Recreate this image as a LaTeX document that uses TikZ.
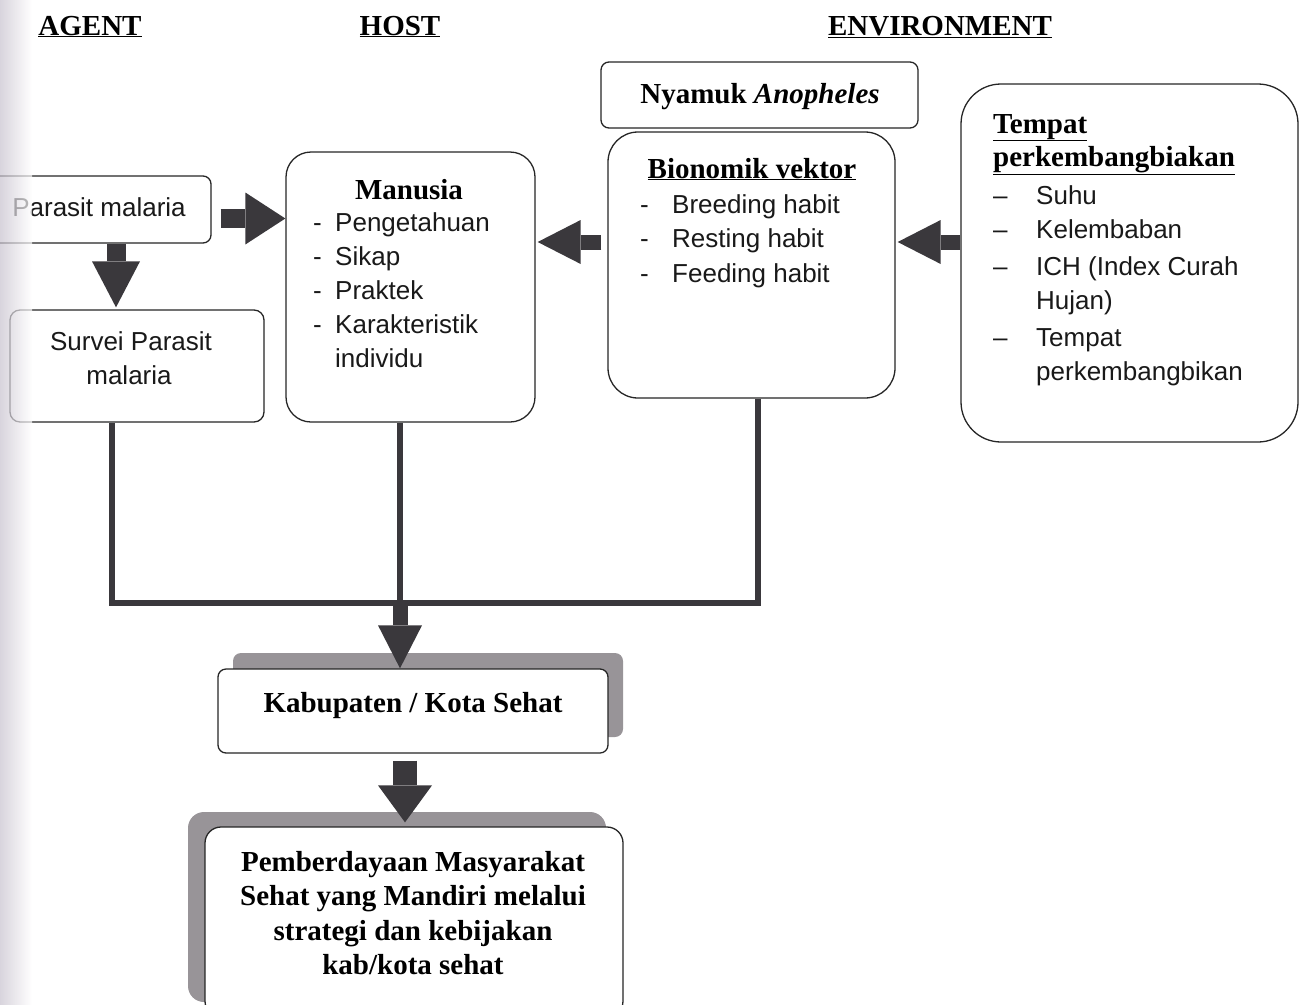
\documentclass[tikz,border=0pt]{standalone}
\usepackage{fontspec}
\setmainfont{Liberation Serif}
\setsansfont{Liberation Sans}
\usetikzlibrary{arrows.meta,calc,shadows}
\definecolor{arr}{RGB}{58,56,60}
\definecolor{shd}{RGB}{152,148,152}
\definecolor{scan}{RGB}{200,194,206}
\begin{document}
\begin{tikzpicture}[x=1pt,y=-1pt,
  box/.style={draw=black!85,line width=1.3pt,rounded corners=#1,fill=white,inner sep=0pt},
  txt/.style={inner sep=0pt,anchor=base west,font=\sffamily\fontsize{26}{34}\selectfont,text=black!90},
  ttl/.style={inner sep=0pt,anchor=base,font=\fontsize{29}{34}\selectfont\bfseries},
  conn/.style={draw=arr,line width=6pt},
  barrow/.style n args={3}{draw=arr,line width=#1,-{Triangle[length=#2,width=#3,line width=0pt]}}
]
\useasboundingbox (0,0) rectangle (1305,1004);
\clip (0,0) rectangle (1305,1004);

% titles
\node[ttl] (tagent) at (90,35) {\underline{AGENT}};
\node[ttl] (thost) at (400,35) {\underline{HOST}};
\node[ttl] (tenv) at (940,35) {\underline{ENVIRONMENT}};

% boxes
\node[box=8pt,minimum width=224pt,minimum height=67pt] (parasit) at (99,209.5) {};
\node[box=10pt,minimum width=254pt,minimum height=112pt] (survei) at (137,366) {};
\node[box=25pt,minimum width=249pt,minimum height=270pt] (manusia) at (410.5,287) {};
\node[box=8pt,minimum width=317pt,minimum height=66pt] (nyamuk) at (759.5,95) {};
\node[box=30pt,minimum width=287pt,minimum height=266pt] (bionomik) at (751.5,265) {};
\node[box=40pt,minimum width=337pt,minimum height=358pt] (tempat) at (1129.5,263) {};
\node[box=8pt,minimum width=390pt,minimum height=84pt,
      general shadow={fill=shd,draw=none,shadow xshift=15pt,shadow yshift=16pt}] (kab) at (413,711) {};
\node[box=16pt,minimum width=418pt,minimum height=190pt,
      general shadow={fill=shd,draw=none,shadow xshift=-17pt,shadow yshift=15pt}] (pemb) at (414,922) {};

% texts
\node[txt,anchor=base] (pt) at (99,216) {Parasit malaria};
\node[txt,anchor=base] (st1) at (131,350) {Survei Parasit};
\node[txt,anchor=base] (st2) at (129,384) {malaria};

\node[ttl] (mh) at (409,199) {Manusia};
\foreach \t [count=\i] in {Pengetahuan,Sikap,Praktek,Karakteristik}{
  \node[txt,name=md\i] at (313,197+34*\i) {-};
  \node[txt,name=mt\i] at (335,197+34*\i) {\t};
}
\node[txt] (mt5) at (335,367) {individu};

\node[ttl] (nt) at (760,103) {Nyamuk \textit{Anopheles}};

\node[ttl] (bh) at (752,178) {\underline{Bionomik vektor}};
\foreach \t/\y [count=\i] in {Breeding habit/213,Resting habit/247,Feeding habit/282}{
  \node[txt,name=bd\i] at (640,\y) {-};
  \node[txt,name=bt\i] at (672,\y) {\t};
}

\node[ttl,anchor=base west] (th1) at (993,133) {\underline{Tempat}};
\node[ttl,anchor=base west] (th2) at (993,166) {\underline{perkembangbiakan}};
\foreach \y [count=\i] in {204,238,275,346}{
  \node[txt,name=td\i] at (993,\y) {\textendash};
}
\node[txt] (tt1) at (1036,204) {Suhu};
\node[txt] (tt2) at (1036,238) {Kelembaban};
\node[txt] (tt3) at (1036,275) {ICH (Index Curah};
\node[txt] (tt4) at (1036,309) {Hujan)};
\node[txt] (tt5) at (1036,346) {Tempat};
\node[txt] (tt6) at (1036,380) {perkembangbikan};

\node[ttl] (kt) at (413,712) {Kabupaten / Kota Sehat};
\node[ttl] (pt1) at (413,871) {Pemberdayaan Masyarakat};
\node[ttl] (pt2) at (413,905) {Sehat yang Mandiri melalui};
\node[ttl] (pt3) at (413,940) {strategi dan kebijakan};
\node[ttl] (pt4) at (413,974) {kab/kota sehat};

% connectors
\coordinate (jl) at (112,603);
\coordinate (jm) at (400,603);
\coordinate (jr) at (758,603);
\draw[conn] ($(survei.south)+(-25,0)$) -- ($(jl)+(0,3)$);
\draw[conn] ($(jl)+(-3,0)$) -- ($(jr)+(3,0)$);
\draw[conn] (jr |- bionomik.south) -- ($(jr)+(0,3)$);
\draw[conn] (jm |- manusia.south) -- (jm);

% block arrows
\draw[barrow={19pt}{40pt}{52pt}] ($(parasit.east)+(9,9)$) -- ($(parasit.east -| manusia.west)+(0,9)$);
\draw[barrow={19pt}{46pt}{48pt}] ($(parasit.south)+(17,0)$) -- ($(parasit.south |- survei.north)+(17,-2)$);
\draw[barrow={15pt}{43pt}{44pt}] ($(bionomik.west)+(-6,-23)$) -- ($(bionomik.west -| manusia.east)+(2,-23)$);
\draw[barrow={15pt}{43pt}{44pt}] ($(tempat.west)+(0,-21)$) -- ($(tempat.west -| bionomik.east)+(2,-21)$);
\draw[barrow={15pt}{43pt}{44pt}] (jm) -- (jm |- kab.north);
\draw[barrow={24pt}{37pt}{54pt}] ($(kab.south)+(-8,7)$) -- ($(kab.south |- pemb.north)+(-8,-4)$);

% scan shading at the left edge
\shade[left color=scan,right color=white,opacity=0.7] (0,0) rectangle (32,1004);
\end{tikzpicture}
\end{document}
